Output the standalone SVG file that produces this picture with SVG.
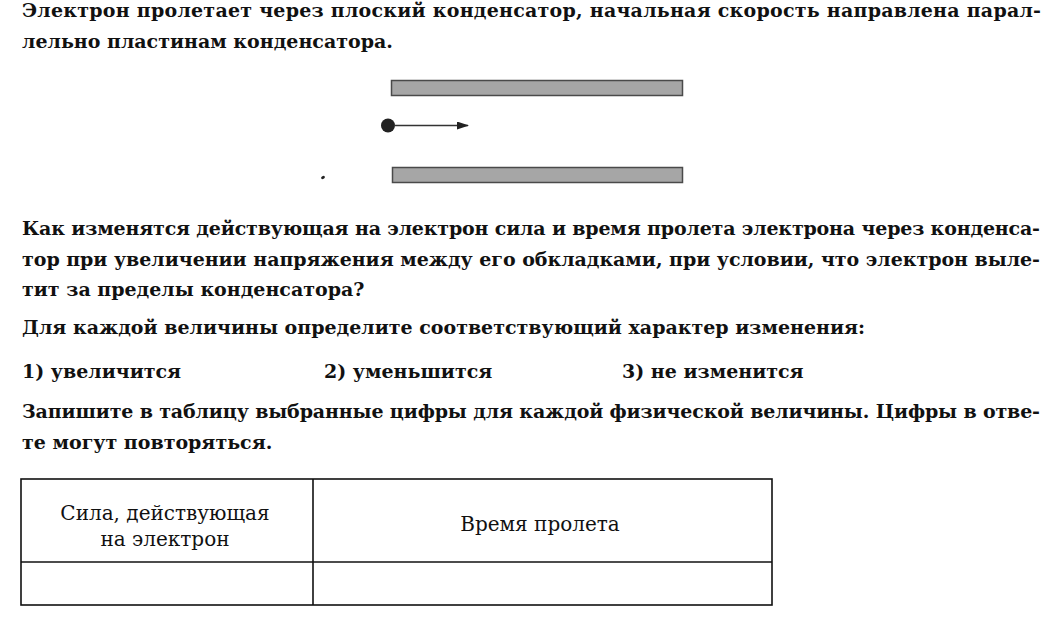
<svg xmlns="http://www.w3.org/2000/svg" width="1058" height="617" viewBox="0 0 1058 617">
<style>
.b{font-family:"DejaVu Serif",serif;font-weight:bold;font-size:19px;fill:#111}
.r{font-family:"DejaVu Serif",serif;font-size:20px;fill:#111}
.plate{fill:#a6a6a6;stroke:#4a4a4a;stroke-width:1.5}
.grid{stroke:#111;stroke-width:1.6;fill:none}
</style>
<defs>
<marker id="ah" viewBox="0 0 12 8" refX="11" refY="4" markerWidth="12" markerHeight="8" markerUnits="userSpaceOnUse" orient="auto">
<path d="M0,0 L12,4 L0,8 Z" fill="#222"/>
</marker>
</defs>
<rect width="1058" height="617" fill="#fff"/>

<g id="intro">
<text class="b" x="22" y="17" textLength="1019" lengthAdjust="spacing">Электрон пролетает через плоский конденсатор, начальная скорость направлена парал-</text>
<text class="b" x="22" y="48">лельно пластинам конденсатора.</text>
</g>

<g id="capacitor">
<rect id="plate-top" class="plate" x="391.5" y="80.5" width="291" height="15"/>
<rect id="plate-bottom" class="plate" x="392.5" y="167.5" width="290" height="15"/>
<g id="electron">
<circle cx="388" cy="125.5" r="7" fill="#222"/>
</g>
<g id="connectors">
<line x1="394" y1="125.5" x2="468" y2="125.5" stroke="#333" stroke-width="1.5" marker-end="url(#ah)"/>
</g>
<ellipse cx="323" cy="177.5" rx="2" ry="1.4" fill="#222" transform="rotate(-30 323 177.5)"/>
</g>

<g id="question">
<text class="b" x="22" y="235" textLength="1018" lengthAdjust="spacing">Как изменятся действующая на электрон сила и время пролета электрона через конденса-</text>
<text class="b" x="22" y="266" textLength="1018" lengthAdjust="spacing">тор при увеличении напряжения между его обкладками, при условии, что электрон выле-</text>
<text class="b" x="22" y="296">тит за пределы конденсатора?</text>
<text class="b" x="22" y="334">Для каждой величины определите соответствующий характер изменения:</text>
<text class="b" x="22" y="378">1) увеличится</text>
<text class="b" x="324" y="378">2) уменьшится</text>
<text class="b" x="622" y="378">3) не изменится</text>
<text class="b" x="22" y="418" textLength="1018" lengthAdjust="spacing">Запишите в таблицу выбранные цифры для каждой физической величины. Цифры в отве-</text>
<text class="b" x="22" y="449">те могут повторяться.</text>
</g>

<g id="table">
<rect class="grid" x="21" y="479" width="751" height="126"/>
<line class="grid" x1="21" y1="562" x2="772" y2="562"/>
<line class="grid" x1="313" y1="479" x2="313" y2="605"/>
<text class="r" x="165" y="520" text-anchor="middle">Сила, действующая</text>
<text class="r" x="165" y="546" text-anchor="middle">на электрон</text>
<text class="r" x="540" y="531" text-anchor="middle">Время пролета</text>
</g>
</svg>
